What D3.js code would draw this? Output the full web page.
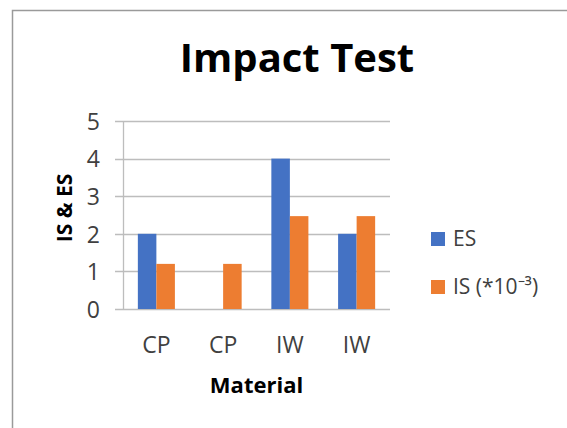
<!DOCTYPE html>
<html>
<head>
<meta charset="utf-8">
<script src="https://cdn.jsdelivr.net/npm/d3@7"></script>
<style>
  html, body { margin: 0; padding: 0; background: #fff; }
  svg { display: block; font-family: "Open Sans", sans-serif; }
</style>
</head>
<body>
<div id="chart"></div>
<script>
const categories = ["CP", "CP", "IW", "IW"];
const seriesNames = ["ES", "IS (*10\u207B\u00B3)"];
const esValues = [2, 0, 4, 2];
const isValues = [1.2, 1.2, 2.47, 2.47];
const yTicks = [0, 1, 2, 3, 4, 5];
const colors = ["#4472C4", "#ED7D31"];

const width = 567, height = 428;
const plot = { left: 123, right: 390, top: 121, bottom: 309 };

const svg = d3.select("#chart").append("svg")
    .attr("width", width)
    .attr("height", height);

// chart frame (runs off the right / bottom edge like the screenshot)
svg.append("rect")
    .attr("x", 12.5).attr("y", 10.5)
    .attr("width", 700).attr("height", 600)
    .attr("fill", "none")
    .attr("stroke", "#9a9a9a")
    .attr("stroke-width", 1.5);

const y = d3.scaleLinear().domain([0, 5]).range([plot.bottom, plot.top]);

const x = d3.scaleBand()
    .domain(d3.range(categories.length))
    .range([plot.left, plot.right])
    .paddingInner(0.445)
    .paddingOuter(0.2225);

const xSub = d3.scaleBand()
    .domain([0, 1])
    .range([0, x.bandwidth()]);

// gridlines with outside tick stubs
svg.append("g").selectAll("line")
    .data(yTicks)
    .join("line")
    .attr("x1", plot.left - 8)
    .attr("x2", plot.right)
    .attr("y1", d => Math.round(y(d)) + 0.5)
    .attr("y2", d => Math.round(y(d)) + 0.5)
    .attr("stroke", "#bdbdbd")
    .attr("stroke-width", 1.3);

// vertical axis line
svg.append("line")
    .attr("x1", plot.left + 0.5).attr("x2", plot.left + 0.5)
    .attr("y1", plot.top).attr("y2", plot.bottom)
    .attr("stroke", "#bdbdbd")
    .attr("stroke-width", 1.3);

// bars
const rows = categories.map((c, i) => ({ i, vals: [esValues[i], isValues[i]] }));
const groups = svg.append("g").selectAll("g")
    .data(rows)
    .join("g")
    .attr("transform", d => `translate(${x(d.i)},0)`);

groups.selectAll("rect")
    .data(d => d.vals.map((v, k) => ({ k, v })))
    .join("rect")
    .attr("x", d => xSub(d.k))
    .attr("width", xSub.bandwidth())
    .attr("y", d => y(d.v))
    .attr("height", d => y(0) - y(d.v))
    .attr("fill", d => colors[d.k]);

// y axis labels
const yAxis = svg.append("g")
    .attr("transform", `translate(100,0)`)
    .call(d3.axisLeft(y).tickValues(yTicks).tickFormat(d3.format("d")).tickSize(0).tickPadding(0));
yAxis.select(".domain").remove();
yAxis.selectAll("text")
    .attr("font-family", "Open Sans")
    .attr("font-size", 23)
    .attr("fill", "#404040")
    .attr("text-anchor", "end")
    .attr("dy", "0.36em");

// x axis labels
const xAxis = svg.append("g")
    .attr("transform", `translate(0,${plot.bottom})`)
    .call(d3.axisBottom(x).tickFormat(i => categories[i]).tickSize(0).tickPadding(0));
xAxis.select(".domain").remove();
xAxis.selectAll("text")
    .attr("font-family", "Open Sans")
    .attr("font-size", 23)
    .attr("fill", "#404040")
    .attr("y", 44)
    .attr("dy", 0);

// title
svg.append("text")
    .attr("x", 297).attr("y", 72)
    .attr("text-anchor", "middle")
    .attr("font-size", 40)
    .attr("font-weight", "bold")
    .attr("fill", "#000")
    .text("Impact Test");

// axis titles
svg.append("text")
    .attr("x", (plot.left + plot.right) / 2).attr("y", 393)
    .attr("text-anchor", "middle")
    .attr("font-size", 22)
    .attr("font-weight", "bold")
    .attr("fill", "#000")
    .text("Material");

svg.append("text")
    .attr("transform", "translate(72,208) rotate(-90)")
    .attr("text-anchor", "middle")
    .attr("font-size", 21)
    .attr("font-weight", "bold")
    .attr("fill", "#000")
    .text("IS & ES");

// legend
const legend = svg.append("g").selectAll("g")
    .data(seriesNames)
    .join("g")
    .attr("transform", (d, i) => `translate(431,${232 + i * 48})`);

legend.append("rect")
    .attr("width", 14).attr("height", 14)
    .attr("fill", (d, i) => colors[i]);

legend.append("text")
    .attr("x", 22).attr("y", 14)
    .attr("font-size", 21)
    .attr("fill", "#404040")
    .text(d => d);
</script>
</body>
</html>
